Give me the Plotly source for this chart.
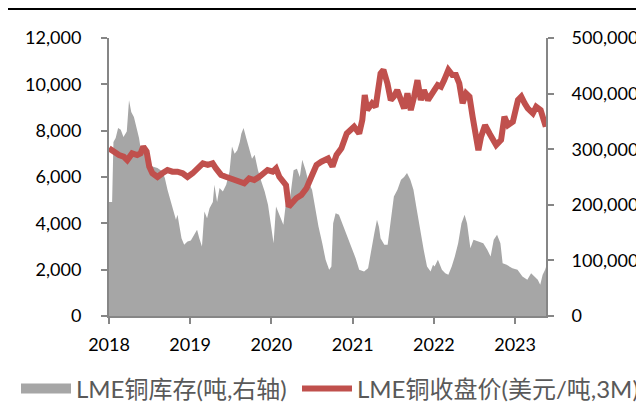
import plotly.graph_objects as go

# LME copper inventory (tonnes, right axis)
inv_dates = [
    "2018-01-01", "2018-01-15", "2018-01-21", "2018-01-31", "2018-02-11", "2018-02-23", "2018-03-07",
    "2018-03-22", "2018-04-01", "2018-04-11", "2018-04-23", "2018-05-05", "2018-05-16", "2018-05-23",
    "2018-06-04", "2018-06-19", "2018-07-01", "2018-07-15", "2018-08-07", "2018-08-29", "2018-09-09",
    "2018-09-21", "2018-10-06", "2018-10-21", "2018-10-29", "2018-11-05", "2018-11-13", "2018-11-23",
    "2018-12-05", "2018-12-20", "2019-01-04", "2019-01-20", "2019-02-01", "2019-02-11", "2019-02-23",
    "2019-03-06", "2019-03-18", "2019-03-29", "2019-04-13", "2019-04-20", "2019-05-02", "2019-05-13",
    "2019-05-28", "2019-06-12", "2019-06-27", "2019-07-08", "2019-07-20", "2019-08-01", "2019-08-12",
    "2019-08-19", "2019-08-29", "2019-09-10", "2019-09-25", "2019-10-06", "2019-10-18", "2019-11-02",
    "2019-11-17", "2019-12-02", "2019-12-17", "2019-12-28", "2020-01-11", "2020-01-22", "2020-02-10",
    "2020-02-24", "2020-03-10", "2020-03-24", "2020-04-10", "2020-04-25", "2020-05-08", "2020-05-19",
    "2020-06-03", "2020-06-17", "2020-07-02", "2020-07-17", "2020-07-31", "2020-08-17", "2020-09-01",
    "2020-09-17", "2020-09-27", "2020-10-05", "2020-10-16", "2020-10-31", "2020-11-14", "2020-11-29",
    "2020-12-15", "2020-12-30", "2021-01-14", "2021-01-30", "2021-02-21", "2021-03-11", "2021-03-22",
    "2021-04-08", "2021-04-20", "2021-04-29", "2021-05-06", "2021-05-23", "2021-06-07", "2021-06-21",
    "2021-07-05", "2021-07-21", "2021-08-06", "2021-08-20", "2021-09-02", "2021-09-17", "2021-10-01",
    "2021-10-16", "2021-11-01", "2021-11-16", "2021-12-01", "2021-12-17", "2021-12-28", "2022-01-04",
    "2022-01-19", "2022-02-06", "2022-02-21", "2022-03-07", "2022-03-22", "2022-04-05", "2022-04-20",
    "2022-05-05", "2022-05-19", "2022-05-30", "2022-06-14", "2022-06-28", "2022-07-20", "2022-08-11",
    "2022-08-29", "2022-09-13", "2022-09-27", "2022-10-12", "2022-10-27", "2022-11-06", "2022-11-24",
    "2022-12-20", "2023-01-12", "2023-02-03", "2023-02-25", "2023-03-14", "2023-03-29", "2023-04-13",
    "2023-04-24", "2023-05-05", "2023-05-16", "2023-05-20",
]
inv_values = [
    205000, 205000, 313000, 320000, 338000, 335000, 322000,
    332000, 388000, 367000, 358000, 338000, 320000, 302000,
    307000, 290000, 277000, 269000, 266000, 260000, 248000,
    227000, 205000, 188000, 173000, 182000, 161000, 140000,
    128000, 134000, 136000, 146000, 155000, 140000, 125000,
    188000, 176000, 194000, 205000, 236000, 205000, 230000,
    224000, 236000, 260000, 305000, 292000, 298000, 313000,
    328000, 338000, 320000, 298000, 283000, 290000, 262000,
    242000, 224000, 200000, 165000, 131000, 197000, 176000,
    164000, 215000, 208000, 262000, 265000, 250000, 281000,
    262000, 239000, 227000, 191000, 161000, 131000, 101000,
    83000, 89000, 167000, 185000, 182000, 167000, 152000,
    137000, 119000, 104000, 83000, 80000, 86000, 113000,
    149000, 173000, 160000, 140000, 128000, 128000, 173000,
    215000, 227000, 245000, 250000, 257000, 245000, 227000,
    191000, 152000, 119000, 89000, 80000, 92000, 89000,
    101000, 83000, 77000, 74000, 89000, 107000, 131000,
    167000, 182000, 167000, 122000, 137000, 134000, 131000,
    119000, 107000, 137000, 146000, 131000, 95000, 92000,
    86000, 83000, 71000, 65000, 77000, 71000, 65000,
    56000, 74000, 83000, 88000,
]

# LME copper 3M close (USD/t, left axis)
price_dates = [
    "2018-01-01", "2018-01-23", "2018-02-15", "2018-03-08", "2018-03-24", "2018-04-15", "2018-05-08",
    "2018-05-23", "2018-06-04", "2018-06-19", "2018-07-01", "2018-07-15", "2018-08-07", "2018-08-29",
    "2018-09-21", "2018-10-13", "2018-11-05", "2018-11-28", "2018-12-20", "2019-01-12", "2019-02-04",
    "2019-02-27", "2019-03-21", "2019-04-12", "2019-04-27", "2019-05-20", "2019-06-10", "2019-07-02",
    "2019-07-25", "2019-08-17", "2019-09-01", "2019-09-23", "2019-10-16", "2019-11-08", "2019-12-01",
    "2019-12-15", "2020-01-07", "2020-01-22", "2020-02-06", "2020-02-21", "2020-03-07", "2020-03-19",
    "2020-03-30", "2020-04-22", "2020-05-15", "2020-06-07", "2020-06-29", "2020-07-22", "2020-08-13",
    "2020-08-28", "2020-09-12", "2020-10-02", "2020-10-20", "2020-11-11", "2020-12-05", "2021-01-07",
    "2021-01-30", "2021-02-13", "2021-02-24", "2021-03-07", "2021-03-29", "2021-04-14", "2021-04-21",
    "2021-05-06", "2021-05-19", "2021-06-06", "2021-06-21", "2021-07-05", "2021-07-20", "2021-08-03",
    "2021-08-20", "2021-09-04", "2021-09-19", "2021-10-04", "2021-10-19", "2021-11-03", "2021-11-17",
    "2021-12-05", "2021-12-18", "2022-01-03", "2022-01-18", "2022-02-02", "2022-02-16", "2022-03-07",
    "2022-03-25", "2022-04-10", "2022-04-25", "2022-05-10", "2022-05-26", "2022-06-10", "2022-06-24",
    "2022-07-09", "2022-07-20", "2022-08-01", "2022-08-19", "2022-09-08", "2022-09-23", "2022-10-08",
    "2022-10-30", "2022-11-14", "2022-11-30", "2022-12-22", "2023-01-14", "2023-01-29", "2023-02-13",
    "2023-02-27", "2023-03-22", "2023-04-06", "2023-04-26", "2023-05-14", "2023-05-19",
]
price_values = [
    7240, 7090, 6950, 6880, 6730, 7020, 6950,
    7020, 7310, 7100, 6450, 6160, 6000, 6160,
    6300, 6230, 6230, 6160, 6000, 6160, 6370,
    6590, 6520, 6590, 6370, 6090, 6010, 5940,
    5870, 5800, 5730, 5940, 5870, 6010, 6160,
    6300, 6230, 6370, 6010, 5870, 5650, 4720,
    4860, 5080, 5220, 5510, 6010, 6520, 6660,
    6730, 6800, 6450, 6950, 7240, 7880, 8170,
    7880, 8460, 9540, 8890, 9180, 9030, 9680,
    10470, 10620, 10040, 9320, 9470, 9750, 9320,
    8960, 9610, 8890, 9470, 10180, 9320, 9750,
    9320, 9470, 9750, 9970, 9900, 10180, 10620,
    10400, 10400, 10040, 9180, 9610, 9470, 8600,
    7740, 7160, 7740, 8240, 7880, 7600, 7380,
    7600, 8600, 8240, 8390, 9320, 9470, 9180,
    8960, 8750, 9030, 8890, 8240, 8170,
]

inv_name = "LME铜库存(吨,右轴)"
price_name = "LME铜收盘价(美元/吨,3M)"
x_range = ["2018-01-01", "2023-05-20"]

GRAY = "#A6A6A6"
RED = "#C0504D"
AXIS = "#868686"
FONT = "Lato, Noto Sans CJK SC, sans-serif"

# the page body has an 8px margin, so the figure is sized to fill the rest of the window
W, H = 636, 397

fig = go.Figure()
fig.add_trace(go.Scatter(
    x=inv_dates, y=inv_values, name=inv_name, yaxis="y",
    mode="lines", line=dict(width=0, color=GRAY), fill="tozeroy",
    fillcolor=GRAY, legendgroup="inv", showlegend=False,
))
# legend key for the inventory area (drawn as a wide grey block)
fig.add_trace(go.Scatter(
    x=[None], y=[None], name=inv_name, yaxis="y",
    mode="lines", line=dict(width=14, color=GRAY),
    legend="legend", legendgroup="inv", showlegend=True,
))
fig.add_trace(go.Scatter(
    x=price_dates, y=price_values, name=price_name, yaxis="y2",
    mode="lines", line=dict(width=6, color=RED), legend="legend2", showlegend=True,
))

legend_common = dict(
    xref="container", yref="container", y=1 - 381 / H,
    xanchor="left", yanchor="middle", orientation="h",
    font=dict(family=FONT, size=24, color="#595959"), itemwidth=50,
    bgcolor="rgba(0,0,0,0)",
)

fig.update_layout(
    width=W, height=H,
    showlegend=True,
    margin=dict(l=101, r=98, t=30, b=89, autoexpand=False),
    paper_bgcolor="white", plot_bgcolor="white",
    font=dict(family=FONT, size=18, color="#000000"),
    xaxis=dict(
        type="date", range=x_range, tickformat="%Y", dtick="M12", tick0="2018-01-01",
        showline=True, linecolor=AXIS, linewidth=2, ticks="outside", tickcolor=AXIS,
        ticklen=6, tickwidth=2, showgrid=False, zeroline=False, ticklabelstandoff=5,
        automargin=False,
    ),
    yaxis=dict(
        side="right", range=[0, 500000], dtick=100000, tickformat=",d",
        showline=True, linecolor=AXIS, linewidth=2, ticks="outside", tickcolor=AXIS,
        ticklen=6, tickwidth=2, showgrid=False, zeroline=False, ticklabelstandoff=14,
        automargin=False,
    ),
    yaxis2=dict(
        overlaying="y", side="left", range=[0, 12000], dtick=2000, tickformat=",d",
        showline=True, linecolor=AXIS, linewidth=2, ticks="outside", tickcolor=AXIS,
        ticklen=6, tickwidth=2, showgrid=False, zeroline=False, ticklabelstandoff=16,
        automargin=False,
    ),
    legend=dict(x=8 / W, **legend_common),
    legend2=dict(x=289 / W, **legend_common),
    shapes=[dict(
        type="line", xref="paper", yref="paper",
        x0=-0.3, x1=1.3, y0=(308 - 1) / 278, y1=(308 - 1) / 278,
        line=dict(color="#000000", width=2),
    )],
)

fig.write_html("out.html")
